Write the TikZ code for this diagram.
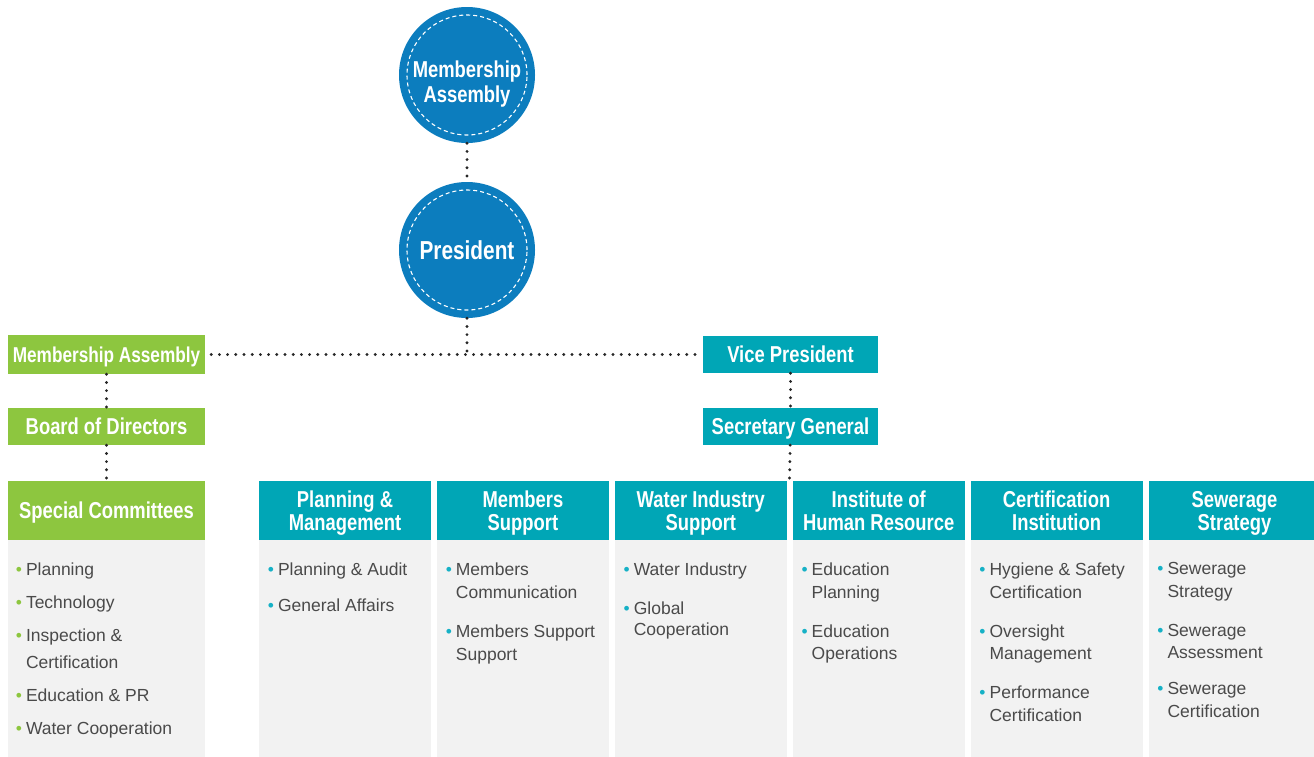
\documentclass[tikz,border=0pt]{standalone}
\usepackage{fontspec}
\setmainfont{Liberation Sans}
\newfontfamily\headfont{Liberation Sans}[FakeStretch=0.8]
\usepackage{xcolor}
\usetikzlibrary{positioning}

\definecolor{circblue}{HTML}{0C7DBE}
\definecolor{leafgreen}{HTML}{8DC63F}
\definecolor{seateal}{HTML}{00A6B6}
\definecolor{bodygrey}{HTML}{F2F2F2}
\definecolor{textgrey}{HTML}{4A4A4A}
\definecolor{dotcyan}{HTML}{16B1C6}

\newcommand{\gdot}{\llap{\textcolor{leafgreen}{•}\hspace{4pt}}}
\newcommand{\tdot}{\llap{\textcolor{dotcyan}{•}\hspace{4pt}}}

\begin{document}
\begin{tikzpicture}[x=1pt, y=-1pt,
    bigcirc/.style={circle, fill=circblue, minimum size=136pt, inner sep=0pt, align=center, text=white,
        font=\headfont\bfseries\fontsize{23}{25}\selectfont,
        path picture={\draw[white, line width=1.1pt, dash pattern=on 4pt off 3pt] (path picture bounding box.center) circle (60pt);}},
    smallbox/.style={rectangle, inner sep=0pt, minimum width=197pt, minimum height=38pt, text=white, text depth=0pt,
        font=\headfont\bfseries\fontsize{23}{23}\selectfont},
    greenbox/.style={smallbox, fill=leafgreen},
    tealbox/.style={smallbox, fill=seateal, minimum width=175pt, minimum height=37pt},
    headbox/.style={rectangle, inner sep=0pt, minimum width=172pt, minimum height=59pt, fill=seateal, text=white,
        text depth=0pt, align=center, font=\headfont\bfseries\fontsize{23}{23}\selectfont},
    bodybox/.style={rectangle, inner sep=0pt, minimum width=172pt, minimum height=230pt, fill=bodygrey},
    itemtext/.style={anchor=north west, inner sep=0pt, align=left, text=textgrey, font=\fontsize{17.5}{23}\selectfont},
    dotline/.style={draw=black!85, line width=3.2pt, line cap=round, dash pattern=on 0pt off 8.2pt}]

        \useasboundingbox (0,0) rectangle (1314,756);

        % top circles
        \node[bigcirc, text depth=0pt] (massy) at (467,75) {\rule{0pt}{29pt}Membership\\Assembly};
        \node[bigcirc, font=\headfont\bfseries\fontsize{26}{26}\selectfont] (pres) at (467,250) {President};

        % left branch
        \node[greenbox, font=\headfont\bfseries\fontsize{21.5}{21.5}\selectfont, minimum height=39pt] (gassy) at (106.5,354.5) {Membership Assembly};
        \node[greenbox, minimum height=37pt] (board) at (106.5,426.5) {Board of Directors};
        \node[greenbox, minimum height=59pt] (special) at (106.5,510.5) {Special Committees};
        \node[bodybox, minimum width=197pt, below=0pt of special] (specbody) {};

        % right branch
        \node[tealbox] (vice) at (790.5,354.5) {Vice President};
        \node[tealbox] (secgen) at (790.5,426.5) {Secretary General};

        % departments
        \node[headbox] (hplan) at (345,510.5) {Planning \&\\Management};
        \node[headbox, right=5.5pt of hplan] (hmemb) {Members\\Support};
        \node[headbox, right=5.5pt of hmemb] (hwater) {Water Industry\\Support};
        \node[headbox, right=5.5pt of hwater] (hinst) {Institute of\\Human Resource};
        \node[headbox, right=5.5pt of hinst] (hcert) {Certification\\Institution};
        \node[headbox, right=5.5pt of hcert] (hsew) {Sewerage\\Strategy};

        \node[bodybox, below=0pt of hplan] (bplan) {};
        \node[bodybox, below=0pt of hmemb] (bmemb) {};
        \node[bodybox, below=0pt of hwater] (bwater) {};
        \node[bodybox, below=0pt of hinst] (binst) {};
        \node[bodybox, below=0pt of hcert] (bcert) {};
        \node[bodybox, below=0pt of hsew] (bsew) {};

        % bullet lists
        \node[itemtext] (lspec) at ([xshift=18pt, yshift=-22pt]special.south west)
            {\gdot Planning\\[10pt]\gdot Technology\\[10pt]\gdot Inspection \&\\[4pt]Certification\\[10pt]\gdot Education \& PR\\[10pt]\gdot Water Cooperation};
        \node[itemtext] (lplan) at ([xshift=19pt, yshift=-22pt]hplan.south west)
            {\tdot Planning \& Audit\\[13pt]\tdot General Affairs};
        \node[itemtext] (lmemb) at ([xshift=19pt, yshift=-22pt]hmemb.south west)
            {\tdot Members\\Communication\\[16pt]\tdot Members Support\\Support};
        \node[itemtext] (lwater) at ([xshift=19pt, yshift=-22pt]hwater.south west)
            {\tdot Water Industry\\[16pt]\tdot Global\\[-2pt]Cooperation};
        \node[itemtext] (linst) at ([xshift=19pt, yshift=-22pt]hinst.south west)
            {\tdot Education\\Planning\\[16pt]\tdot Education\\[-1pt]Operations};
        \node[itemtext] (lcert) at ([xshift=19pt, yshift=-22pt]hcert.south west)
            {\tdot Hygiene \& Safety\\Certification\\[16pt]\tdot Oversight\\[-1pt]Management\\[16pt]\tdot Performance\\Certification};
        \node[itemtext] (lsew) at ([xshift=19pt, yshift=-22pt]hsew.south west)
            {\tdot Sewerage\\Strategy\\[16pt]\tdot Sewerage\\[-1pt]Assessment\\[13pt]\tdot Sewerage\\Certification};

        % connectors
        \coordinate (junc) at (467,354.5);
        \coordinate (colgap) at (789.5,481);

        \path[dotline]
        (massy) edge[] (pres)
        (pres) edge[] (junc)
        (gassy) edge[shorten <=6pt, shorten >=4pt] (vice)
        (gassy) edge[] (board)
        (board) edge[] (special)
        (vice) edge[] (secgen)
        (secgen) edge[] (colgap);

    \end{tikzpicture}
\end{document}
